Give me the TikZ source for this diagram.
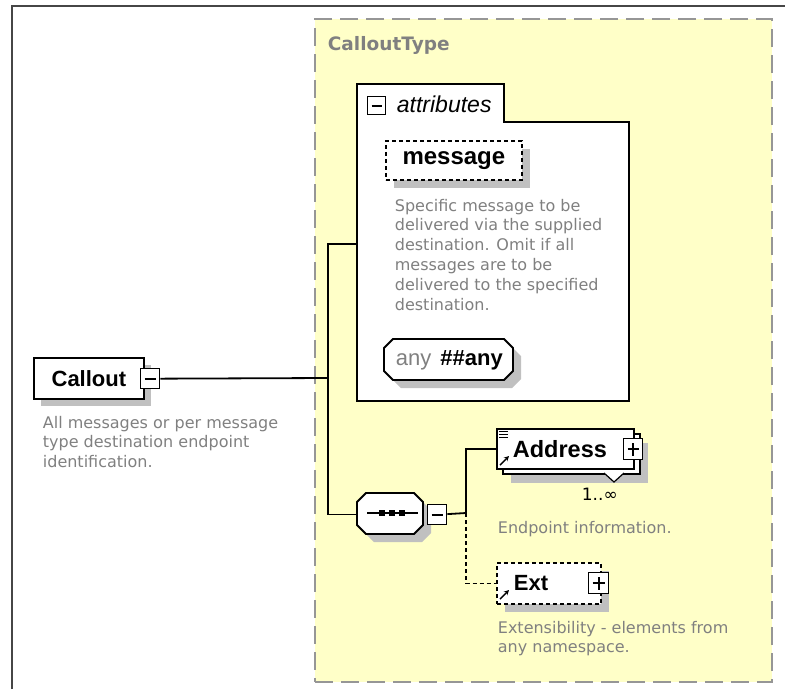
\documentclass[tikz,border=0pt]{standalone}
\usepackage{fontspec}
\setmainfont{Liberation Sans}
\newfontfamily\descfont{DejaVu Sans}
\usepackage{tikz}
\usetikzlibrary{positioning,shadows,arrows.meta}
\definecolor{typeyellow}{RGB}{255,255,200}
\definecolor{typeborder}{RGB}{150,150,150}
\definecolor{desctext}{RGB}{128,128,128}
\definecolor{shadowgray}{RGB}{192,192,192}
\definecolor{framegray}{RGB}{70,70,70}
\newcommand{\octpath}[5]{(#1+#5,#2) -- (#3-#5,#2) -- (#3,#2+#5) -- (#3,#4-#5) -- (#3-#5,#4) -- (#1+#5,#4) -- (#1,#4-#5) -- (#1,#2+#5) -- cycle}

\begin{document}
\begin{tikzpicture}[x = 1pt, y = -1pt, line width = 1.8pt,
  elem/.style = {draw, fill = white, anchor = north west, inner sep = 0pt, font = \fontsize{22}{26}\selectfont\bfseries},
  dropshadow/.style = {general shadow = {fill = shadowgray, shadow xshift = #1, shadow yshift = -#1}},
  optional/.style = {dash pattern = on 4pt off 3pt},
  desc/.style = {anchor = north west, inner sep = 0pt, align = left, text = desctext, font = \descfont\fontsize{16}{19.8}\selectfont},
  iconbox/.style = {draw, fill = white, solid, anchor = north west, inner sep = 0pt, minimum width = 19pt, minimum height = 20pt, line width = 1.4pt},
  minusbox/.style = {iconbox, path picture = {\draw[line width = 1.6pt] ([xshift = 4pt]path picture bounding box.west) -- ([xshift = -4pt]path picture bounding box.east);}},
  plusbox/.style = {iconbox, path picture = {\draw[line width = 1.6pt] ([xshift = 4pt]path picture bounding box.west) -- ([xshift = -4pt]path picture bounding box.east) ([yshift = 4pt]path picture bounding box.south) -- ([yshift = -4pt]path picture bounding box.north);}},
  reflink/.style = {-{Stealth[length = 5pt, width = 5pt]}, line width = 1.4pt}
]
\useasboundingbox (0,0) rectangle (785,689);
\draw[line width = 2pt, framegray] (12,689) -- (12,6) -- (785,6);

\node[draw = typeborder, fill = typeyellow, line width = 2pt, dash pattern = on 18pt off 8pt, anchor = north west, minimum width = 457, minimum height = 663] (ctype) at (314,18) {};
\node[anchor = north west, inner sep = 0pt, text = desctext, font = \descfont\fontsize{18.5}{22}\selectfont\bfseries] (ctypename) at (327,36) {CalloutType};

\draw[fill = white] (357,401) -- (357,84) -- (504,84) -- (504,122) -- (629,122) -- (629,401) -- cycle;
\coordinate (attrin) at (357,244);
\node[minusbox, minimum width = 18pt, minimum height = 18pt] (attrminus) at (367,96) {};
\node[anchor = west, inner sep = 0pt, font = \fontsize{23}{26}\selectfont\itshape] (attrlabel) at (396,104) {attributes};

\node[elem, optional, dropshadow = 8pt, minimum width = 136, minimum height = 39, font = \fontsize{24}{28}\selectfont\bfseries] (message) at (385,140) {message};
\node[desc] (messagedesc) at (394,198) {Specific message to be\\delivered via the supplied\\destination. Omit if all\\messages are to be\\delivered to the specified\\destination.};
\fill[shadowgray, shift = {(8,8)}] \octpath{384}{339}{513}{380}{9};
\draw[fill = white] \octpath{384}{339}{513}{380}{9};
\node[anchor = north west, inner sep = 0pt, minimum width = 129, minimum height = 41, font = \fontsize{22}{26}\selectfont] (anyattr) at (384,339) {\textcolor{desctext}{any}\hspace{9pt}\textbf{\#\#any}};

\node[elem, dropshadow = 7pt, minimum width = 110, minimum height = 41] (callout) at (33,357) {Callout\hspace{12pt}};
\node[minusbox] (calloutminus) at (140,368) {};
\node[desc] (calloutdesc) at (42,415) {All messages or per message\\type destination endpoint\\identification.};

\fill[shadowgray, shift = {(8,8)}] \octpath{357}{493}{423}{534}{9};
\draw[fill = white] \octpath{357}{493}{423}{534}{9};
\node[anchor = north west, inner sep = 0pt, minimum width = 66, minimum height = 41] (seq) at (357,493) {};
\draw (367,513) -- (418,513);
\foreach \xx in {379,389,399}
  \fill (\xx,510) rectangle ++(6,6);
\node[minusbox] (seqminus) at (427,504) {};

\coordinate (bus) at (328,378);
\coordinate (choice) at (466,513);
\draw (calloutminus) -- (bus);
\draw (attrin) -| (bus) |- (seq.west);
\draw (seqminus) -- (choice);

\node[elem, general shadow = {fill = shadowgray, shadow xshift = 14pt, shadow yshift = -14pt}, copy shadow = {shadow xshift = 6pt, shadow yshift = -5pt}, minimum width = 137, minimum height = 40, text width = 105pt, align = left, font = \fontsize{23.5}{27}\selectfont\bfseries] (address) at (496,428) {Address};
\node[plusbox, minimum height = 21pt] (addressplus) at (623,438) {};
\draw[fill = white, line width = 1.2pt] (604,473) -- (614,482) -- (624,473);
\foreach \yy in {431,434,437}
  \draw[line width = 1pt] (499,\yy) -- (508,\yy);
\draw[reflink] (500,465) -- (509,456);
\node[anchor = north west, inner sep = 0pt, font = \descfont\fontsize{17}{20}\selectfont] (addresscard) at (581,487) {1..∞};
\node[desc] (addressdesc) at (497,520) {Endpoint information.};

\node[elem, optional, dropshadow = 8pt, minimum width = 104, minimum height = 41, text width = 70pt, align = left] (ext) at (496,562) {Ext};
\node[plusbox, minimum width = 20pt, minimum height = 21pt] (extplus) at (588,572) {};
\draw[reflink] (500,599) -- (509,590);
\node[desc] (extdesc) at (497,620) {Extensibility - elements from\\any namespace.};

\draw (choice) |- (address.west);
\draw[optional] (choice) |- (ext.west);
\end{tikzpicture}
\end{document}
